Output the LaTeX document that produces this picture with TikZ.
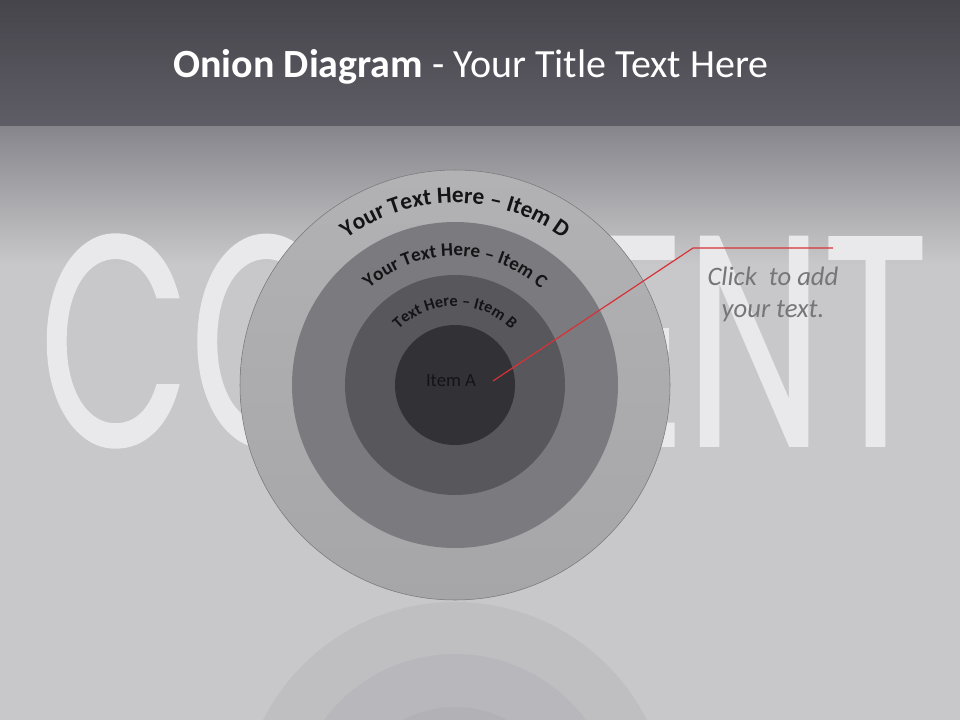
\documentclass[tikz,border=0pt]{standalone}
\usepackage{fontspec}
\setmainfont{Carlito}
\newfontfamily\wmfont[FakeStretch=0.65,FakeBold=0.6]{Poppins}
\usetikzlibrary{decorations.text}

\definecolor{bgtop}{RGB}{70,69,76}
\definecolor{bgband}{RGB}{95,94,102}
\definecolor{bgmid}{RGB}{135,134,140}
\definecolor{bglow}{RGB}{200,200,202}
\definecolor{ringDtop}{RGB}{178,178,180}
\definecolor{ringD}{RGB}{166,166,169}
\definecolor{ringC}{RGB}{123,122,127}
\definecolor{ringB}{RGB}{88,87,92}
\definecolor{ringA}{RGB}{50,49,53}
\definecolor{mirrorD}{RGB}{191,191,194}
\definecolor{mirrorC}{RGB}{184,184,188}
\definecolor{mirrorB}{RGB}{178,178,182}
\definecolor{mirrorA}{RGB}{172,172,176}
\definecolor{ringline}{RGB}{120,120,122}
\definecolor{wmark}{RGB}{233,233,236}
\definecolor{calloutred}{RGB}{214,50,56}
\definecolor{clickgray}{RGB}{118,118,120}
\definecolor{itemtext}{RGB}{20,20,22}

\begin{document}
\begin{tikzpicture}[x=0.75pt,y=-0.75pt]
    \tikzstyle{ring}=[circle,inner sep=0pt,outer sep=0pt]
    \tikzstyle{callout}=[draw=calloutred,line width=0.9pt]
    \tikzstyle{annot}=[font=\itshape\fontsize{20}{24}\selectfont,text=clickgray,align=center]
    \tikzstyle{ring label}=[decorate,decoration={text along path,text align=center,text color=itemtext}]

    % Fix the page size
    \useasboundingbox (0,0) rectangle (960,720);
    \clip (0,0) rectangle (960,720);

    % Draw the background
    \fill[top color=bgtop,bottom color=bgband] (0,0) rectangle (960,127);
    \fill[top color=bgmid,bottom color=bglow] (0,127) rectangle (960,265);
    \fill[bglow] (0,265) rectangle (960,720);

    % Draw the reflection of the rings
    \foreach \name/\r in {D/215,C/163,B/110,A/60}
        \node[ring,fill=mirror\name,minimum size=1.5pt*\r] (M-\name) at (455,817) {};

    % Write the watermark
    \node[font=\wmfont\fontsize{225}{225}\selectfont,text=wmark,anchor=base west,inner sep=0pt] (watermark) at (39,446) {CONTENT};

    % Draw the rings, outermost first
    \node[ring,top color=ringDtop,bottom color=ringD,draw=ringline,thin,minimum size=1.5pt*215] (R-D) at (455,385) {};
    \foreach \name/\r in {C/163,B/110,A/60}
        \node[ring,fill=ring\name,minimum size=1.5pt*\r] (R-\name) at (455,385) {};

    % Label the rings along their upper edge
    \path[ring label,decoration={text={|\bfseries\fontsize{17.5}{17.5}\selectfont|Your Text Here – Item D}}]
        (R-D.center) ++(180:182) arc[start angle=180,end angle=360,radius=182];
    \path[ring label,decoration={text={|\bfseries\fontsize{14.3}{14.3}\selectfont|Your Text Here – Item C}}]
        (R-C.center) ++(180:129) arc[start angle=180,end angle=360,radius=129];
    \path[ring label,decoration={text={|\bfseries\fontsize{12.2}{12.2}\selectfont|Text Here – Item B}}]
        (R-B.center) ++(180:79) arc[start angle=180,end angle=360,radius=79];
    \node[font=\fontsize{14}{17}\selectfont,text=itemtext] (item-A) at (451,381) {Item A};

    % Callout from the core to the note
    \coordinate (pin) at (493,381);
    \coordinate (bend) at (693,248);
    \coordinate (tip) at (833,248);
    \draw[callout] (pin) -- (bend) -- (tip);
    \node[annot] (note) at (773,294) {Click\ \ to add\\your text.};

    % Title
    \node[font=\fontsize{30}{36}\selectfont,text=white] (title) at (471,67) {\textbf{Onion Diagram} - Your Title Text Here};
\end{tikzpicture}
\end{document}
